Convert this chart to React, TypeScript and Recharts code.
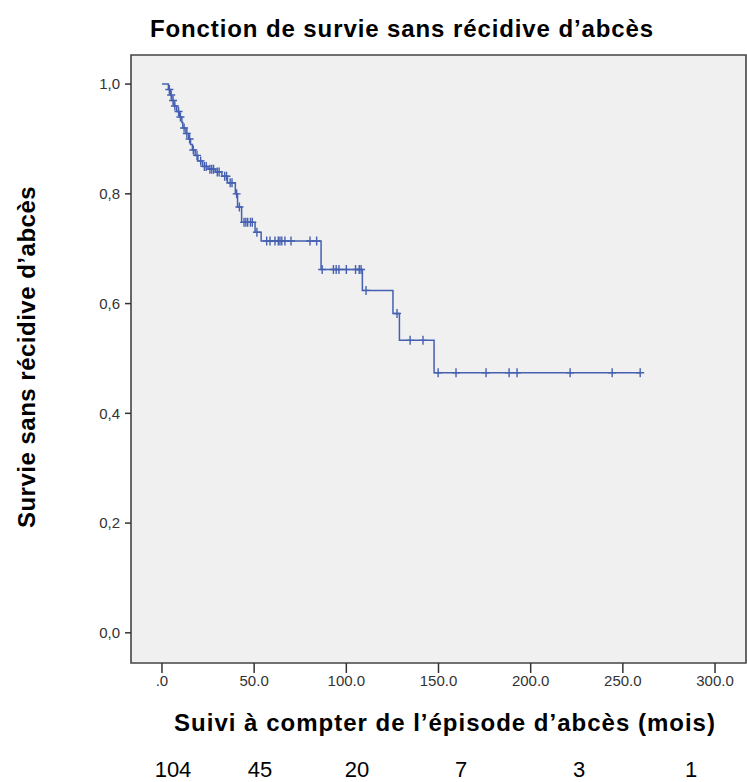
import React from "react";
import {
  ComposedChart,
  Line,
  Scatter,
  XAxis,
  YAxis,
  CartesianGrid,
  ReferenceArea,
} from "recharts";

// Kaplan-Meier steps: time of event (months) and survival after it
const EVENT_TIMES = [
  0, 3.5, 4.5, 5.3, 6.5, 8, 9.5, 10.8, 11.3, 13, 14.5, 15.5, 16.5, 18, 19.5,
  22, 25, 29, 32.5, 35.5, 39.8, 41, 43.2, 50.5, 53.8, 86.3, 108.7, 125.3, 128.8,
  147.6,
];
const SURVIVAL = [
  1.0, 0.99, 0.98, 0.97, 0.96, 0.95, 0.94, 0.93, 0.92, 0.91, 0.9, 0.89, 0.88,
  0.87, 0.86, 0.85, 0.845, 0.84, 0.832, 0.82, 0.8, 0.776, 0.748, 0.73, 0.714,
  0.662, 0.624, 0.582, 0.533, 0.474,
];
// censored observations (months)
const CENSOR_TIMES = [
  4, 5, 6, 7, 9, 10, 12, 13.5, 15, 17, 19, 21, 23, 24, 26, 27, 28, 30, 31, 34,
  35, 37, 38, 40.5, 42, 44.5, 45.5, 46.5, 48, 49, 51.5, 56.8, 58.6, 61.3, 63.1,
  64, 65, 66.7, 70, 80.3, 83.9, 86.9, 93, 94.5, 96, 100, 105, 107, 108, 110.7,
  127.5, 134.6, 141.6, 149.8, 159.5, 175.8, 188.3, 192.6, 221.4, 244.2, 259.4,
];
const X_TICKS = [0, 50, 100, 150, 200, 250, 300];
const Y_TICKS = [0, 0.2, 0.4, 0.6, 0.8, 1.0];
const AT_RISK = [104, 45, 20, 7, 3, 1];
const AT_RISK_X = [173, 260, 357, 461, 579, 691];

const X_MIN = -16.8;
const X_MAX = 316.8;
const Y_MIN = -0.055;
const Y_MAX = 1.053;

const BLUE = "#4560b0";
const FONT = "'Liberation Sans', Arial, Helvetica, sans-serif";

const survivalAt = (t: number) => {
  let s = SURVIVAL[0];
  EVENT_TIMES.forEach((e, i) => {
    if (e <= t) s = SURVIVAL[i];
  });
  return s;
};

const stepData = [
  ...EVENT_TIMES.map((t, i) => ({ t, s: SURVIVAL[i] })),
  {
    t: CENSOR_TIMES[CENSOR_TIMES.length - 1],
    s: SURVIVAL[SURVIVAL.length - 1],
  },
];
const censorData = CENSOR_TIMES.map((t) => ({ t, s: survivalAt(t) }));

const CensorMark = (props: any) => {
  const { cx, cy } = props;
  if (cx == null || cy == null) return null;
  return (
    <path
      d={`M${cx},${cy - 4.5}V${cy + 4.5}M${cx - 4},${cy}H${cx + 4}`}
      stroke={BLUE}
      strokeWidth={1.4}
      fill="none"
    />
  );
};

const fmtX = (v: number) => (v === 0 ? ".0" : v.toFixed(1));
const fmtY = (v: number) => v.toFixed(1).replace(".", ",");

export default function App() {
  return (
    <div
      style={{
        position: "absolute",
        left: 0,
        top: 0,
        width: 747,
        height: 782,
        background: "#fff",
        fontFamily: FONT,
        overflow: "hidden",
      }}
    >
      <div
        style={{
          position: "absolute",
          left: 0,
          width: 804,
          top: 17,
          textAlign: "center",
          fontSize: 24,
          lineHeight: "24px",
          fontWeight: "bold",
          letterSpacing: 0.9,
          color: "#000",
          whiteSpace: "nowrap",
        }}
      >
        Fonction de survie sans récidive d’abcès
      </div>

      <ComposedChart
        width={747}
        height={782}
        margin={{ top: 55, right: 1, bottom: 89, left: 86 }}
        style={{ position: "absolute", left: 0, top: 0 }}
      >
        <CartesianGrid
          horizontal={false}
          vertical={false}
          fill="#f0f0f0"
          stroke="none"
        />
        <XAxis
          type="number"
          dataKey="t"
          domain={[X_MIN, X_MAX]}
          ticks={X_TICKS}
          tickFormatter={fmtX}
          allowDataOverflow
          height={30}
          axisLine={false}
          tickSize={10}
          tickMargin={2}
          tickLine={{ stroke: "#333", strokeWidth: 1.5 }}
          tick={{ fill: "#333", fontSize: 15, fontFamily: FONT }}
        />
        <YAxis
          type="number"
          dataKey="s"
          domain={[Y_MIN, Y_MAX]}
          ticks={Y_TICKS}
          tickFormatter={fmtY}
          allowDataOverflow
          width={45}
          axisLine={false}
          tickSize={6}
          tickMargin={5}
          tickLine={{ stroke: "#333", strokeWidth: 1.5 }}
          tick={{ fill: "#333", fontSize: 15, fontFamily: FONT }}
        />
        <Line
          data={stepData}
          dataKey="s"
          type="stepAfter"
          stroke={BLUE}
          strokeWidth={1.5}
          dot={false}
          activeDot={false}
          isAnimationActive={false}
        />
        <Scatter
          data={censorData}
          dataKey="s"
          shape={CensorMark}
          isAnimationActive={false}
        />
        <ReferenceArea
          x1={X_MIN}
          x2={X_MAX}
          y1={Y_MIN}
          y2={Y_MAX}
          fill="none"
          fillOpacity={0}
          stroke="#444"
          strokeWidth={1.6}
          strokeOpacity={1}
          ifOverflow="visible"
        />
      </ComposedChart>

      <div
        style={{
          position: "absolute",
          left: 27,
          top: 357,
          transform: "translate(-50%, -50%) rotate(-90deg)",
          fontSize: 24,
          lineHeight: "24px",
          fontWeight: "bold",
          letterSpacing: 0.5,
          color: "#000",
          whiteSpace: "nowrap",
        }}
      >
        Survie sans récidive d’abcès
      </div>

      <div
        style={{
          position: "absolute",
          left: 0,
          width: 890,
          top: 711,
          textAlign: "center",
          fontSize: 24,
          lineHeight: "24px",
          fontWeight: "bold",
          letterSpacing: 1,
          color: "#000",
          whiteSpace: "nowrap",
        }}
      >
        Suivi à compter de l’épisode d’abcès (mois)
      </div>

      {AT_RISK.map((n, i) => (
        <div
          key={i}
          style={{
            position: "absolute",
            left: AT_RISK_X[i],
            top: 759,
            transform: "translateX(-50%)",
            fontSize: 22,
            lineHeight: "22px",
            color: "#000",
          }}
        >
          {n}
        </div>
      ))}
    </div>
  );
}
